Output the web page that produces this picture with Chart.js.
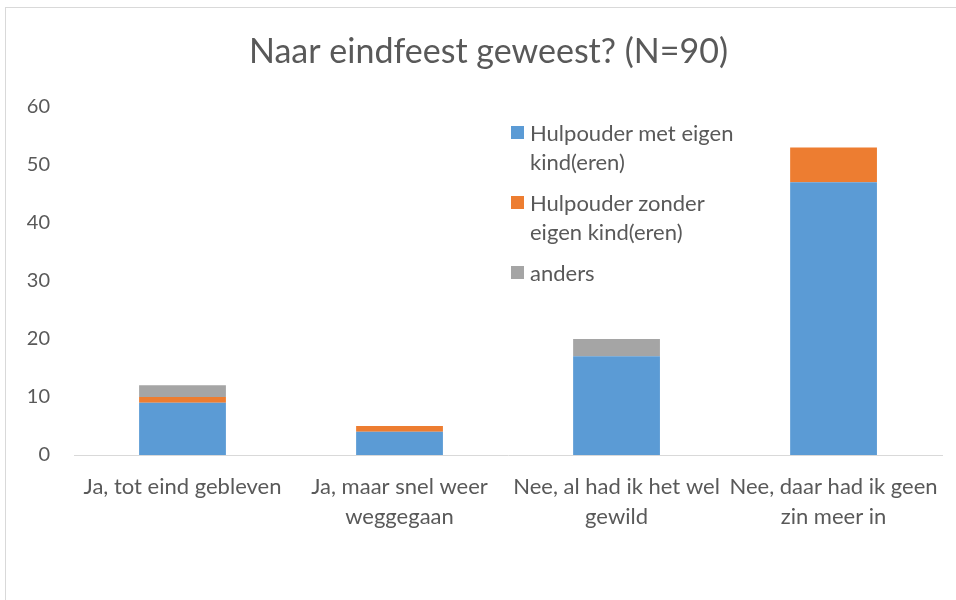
<!DOCTYPE html>
<html>
<head>
<meta charset="utf-8">
<script src="https://cdn.jsdelivr.net/npm/chart.js@4.4.1/dist/chart.umd.min.js"></script>
<style>
  html, body { margin: 0; padding: 0; background: #fff; }
  #wrap { position: relative; width: 956px; height: 600px; overflow: hidden; }
  #frame { position: absolute; left: 5px; top: 7px; width: 1000px; height: 700px; border: 1px solid #d9d9d9; box-sizing: border-box; }
  #chart { position: absolute; left: 0; top: 0; }
  #legend { position: absolute; left: 511px; top: 118px; font-family: Lato, sans-serif; font-size: 22px; color: #595959; line-height: 29px; }
  #legend .item { position: relative; padding-left: 19px; margin-bottom: 12px; }
  #legend .box { position: absolute; left: 0; top: 8px; width: 13px; height: 13px; }
</style>
</head>
<body>
<div id="wrap">
  <div id="frame"></div>
  <canvas id="chart" width="956" height="600"></canvas>
  <div id="legend"></div>
</div>
<script>
// Categories (x axis)
const categories = [
    ['Ja, tot eind gebleven'],
    ['Ja, maar snel weer', 'weggegaan'],
    ['Nee, al had ik het wel', 'gewild'],
    ['Nee, daar had ik geen', 'zin meer in']
];

// Series values
const metKind = [9, 4, 17, 47];
const zonderKind = [1, 1, 0, 6];
const anders = [2, 0, 3, 0];

const seriesLabels = [
    ['Hulpouder met eigen', 'kind(eren)'],
    ['Hulpouder zonder', 'eigen kind(eren)'],
    ['anders']
];
const seriesColors = ['#5B9BD5', '#ED7D31', '#A5A5A5'];

const yTicks = [0, 10, 20, 30, 40, 50, 60];

const FONT = 'Lato, sans-serif';
const TEXT = '#595959';

/**
 * Build the legend as plain html in the empty upper right area.
 */
function buildLegend() {
    const legend = document.getElementById('legend');
    seriesLabels.forEach((lines, i) => {
        const item = document.createElement('div');
        item.className = 'item';
        item.innerHTML = `<span class="box" style="background:${seriesColors[i]}"></span>${lines.join('<br>')}`;
        legend.append(item);
    });
}

/**
 * The title is centred a bit right of the canvas centre, so nudge its box.
 */
const shiftTitle = {
    id: 'shiftTitle',
    afterLayout(chart) {
        if (chart.titleBlock) {
            chart.titleBlock.left += 16;
            chart.titleBlock.right += 16;
        }
    }
};

document.addEventListener('DOMContentLoaded', function() {
    buildLegend();
    const data = [metKind, zonderKind, anders];
    new Chart(document.getElementById('chart').getContext('2d'), {
        type: 'bar',
        data: {
            labels: categories,
            datasets: data.map((values, i) => ({
                label: seriesLabels[i].join(' '),
                data: values,
                backgroundColor: seriesColors[i],
                borderWidth: 0,
                categoryPercentage: 1,
                barPercentage: 0.4
            }))
        },
        plugins: [shiftTitle],
        options: {
            responsive: false,
            animation: false,
            layout: { padding: { left: 0, right: 11, top: 0, bottom: 0 } },
            plugins: {
                legend: { display: false },
                tooltip: { enabled: false },
                title: {
                    display: true,
                    text: 'Naar eindfeest geweest? (N=90)',
                    color: TEXT,
                    font: { family: FONT, size: 34, weight: 'normal', lineHeight: 1.2 },
                    padding: { top: 32, bottom: 34 }
                }
            },
            scales: {
                x: {
                    stacked: true,
                    grid: { display: false, drawTicks: false },
                    border: { display: true, color: '#d9d9d9', width: 1 },
                    ticks: {
                        color: TEXT,
                        font: { family: FONT, size: 22, lineHeight: 1.36 },
                        padding: 17,
                        maxRotation: 0,
                        autoSkip: false
                    },
                    afterFit(scale) { scale.height = 145; }
                },
                y: {
                    stacked: true,
                    min: 0,
                    max: 60,
                    grid: { display: false, drawTicks: false },
                    border: { display: false },
                    afterBuildTicks(scale) { scale.ticks = yTicks.map(v => ({ value: v })); },
                    ticks: {
                        color: TEXT,
                        font: { family: FONT, size: 20 },
                        padding: 24
                    },
                    afterFit(scale) { scale.width = 74; }
                }
            }
        }
    });
});
</script>
</body>
</html>
